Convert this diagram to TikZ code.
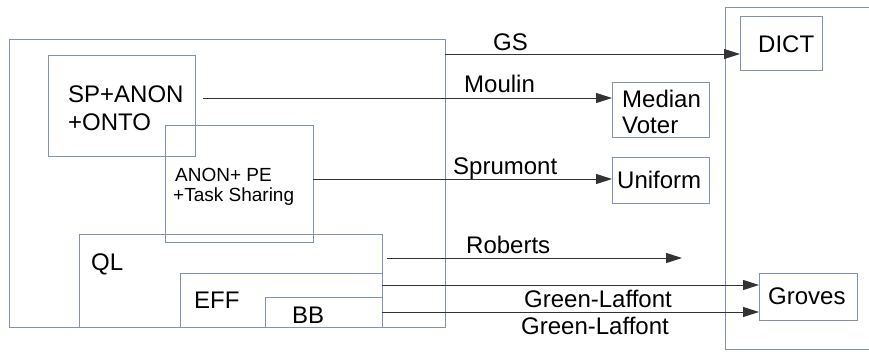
\documentclass[tikz,border=0pt]{standalone}
\usepackage{fontspec}
\setmainfont{Liberation Sans}
\usetikzlibrary{arrows.meta}
\definecolor{frame}{HTML}{8392B4}
\definecolor{wire}{HTML}{333333}
\begin{document}
\begin{tikzpicture}[x=1pt,y=-1pt,
  box/.style={draw=frame, line width=1pt, inner sep=0pt, outer sep=0pt, anchor=north west},
  lbl/.style={inner sep=0pt, anchor=base west, font=\fontsize{24}{28}\selectfont},
  small/.style={inner sep=0pt, anchor=base west, font=\fontsize{19}{21}\selectfont},
  link/.style={draw=wire, line width=1pt, -{Triangle[length=16pt,width=10pt]}}]
\useasboundingbox (0,0) rectangle (869,351);
\fill[white] (0,0) rectangle (869,351);
\clip (0,0) rectangle (869,351);

% property classes (nested rectangles)
\node[box, minimum width=436pt, minimum height=288pt] (big) at (9,39) {};
\node[box, minimum width=147pt, minimum height=101pt] (sp) at (48,55) {};
\node[box, minimum width=148pt, minimum height=117pt] (pe) at (165,125) {};
\node[box, minimum width=303pt, minimum height=93pt] (ql) at (79,234) {};
\node[box, minimum width=202pt, minimum height=54pt] (eff) at (180,273) {};
\node[box, minimum width=117pt, minimum height=30pt] (bb) at (265,297) {};

% characterised rules
\node[box, minimum width=150pt, minimum height=342pt] (right) at (725,7) {};
\node[box, minimum width=82pt, minimum height=54pt] (dict) at (740,16) {};
\node[box, minimum width=97pt, minimum height=55pt] (med) at (612,82) {};
\node[box, minimum width=97pt, minimum height=46pt] (uni) at (612,157) {};
\node[box, minimum width=98pt, minimum height=47pt] (grv) at (759,273) {};

% box texts
\node[lbl] (tsp1) at (68,102) {SP+ANON};
\node[lbl] (tsp2) at (68,130) {+ONTO};
\node[small] (tpe1) at (175,181) {ANON+ PE};
\node[small] (tpe2) at (173,201) {+Task Sharing};
\node[lbl] (tql) at (91,270) {QL};
\node[lbl] (teff) at (194,308) {EFF};
\node[lbl] (tbb) at (292,323) {BB};
\node[lbl] (tdict) at (758,52) {DICT};
\node[lbl] (tmed1) at (622,107) {Median};
\node[lbl] (tmed2) at (622,133) {Voter};
\node[lbl] (tuni) at (617,188) {Uniform};
\node[lbl] (tgrv) at (768,304) {Groves};

% arrow start points
\coordinate (sGS) at (445,54);
\coordinate (sMo) at (203,98);
\coordinate (sSp) at (313,179);
\coordinate (sRo) at (387,258);
\coordinate (eRo) at (682,258);
\coordinate (sG1) at (382,285);
\coordinate (sG2) at (382,312);

\draw[link] (sGS) -- (sGS -| dict.west);
\draw[link] (sMo) -- (sMo -| med.west);
\draw[link] (sSp) -- (sSp -| uni.west);
\draw[link] (sRo) -- (eRo);
\draw[link] (sG1) -- (sG1 -| grv.west);
\draw[link] (sG2) -- (sG2 -| grv.west);

% theorem names
\node[lbl] (lGS) at (493,50) {GS};
\node[lbl] (lMo) at (464,92) {Moulin};
\node[lbl] (lSp) at (453,174) {Sprumont};
\node[lbl] (lRo) at (466,253) {Roberts};
\node[lbl] (lG1) at (524,307) {Green-Laffont};
\node[lbl] (lG2) at (521,334) {Green-Laffont};
\end{tikzpicture}
\end{document}
